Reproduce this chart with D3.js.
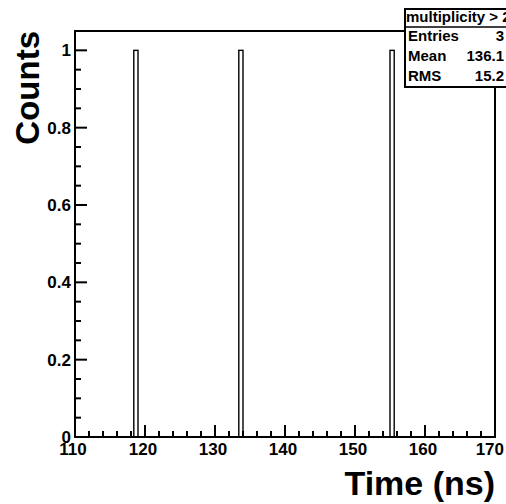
<!DOCTYPE html>
<html>
<head>
<meta charset="utf-8">
<script src="https://cdn.jsdelivr.net/npm/d3@7"></script>
<style>
  html, body { margin: 0; padding: 0; background: #fff; }
  svg { display: block; font-family: "Liberation Sans", Arial, Helvetica, sans-serif; font-weight: bold; }
</style>
</head>
<body>
<svg id="chart" width="506" height="504"></svg>
<script>
// ---- data ----
const binStarts = [118.4, 133.4, 155.0];
const binWidth = 0.6;
const counts = [1, 1, 1];
const xTicks = [110, 120, 130, 140, 150, 160, 170];
const yTicks = [0, 0.2, 0.4, 0.6, 0.8, 1];
const yTickLabels = ["0", "0.2", "0.4", "0.6", "0.8", "1"];
const statsTitle = "multiplicity > 2";
const statLabels = ["Entries", "Mean", "RMS"];
const statValues = ["3", "136.1", "15.2"];
const xTitle = "Time (ns)";
const yTitle = "Counts";

// ---- layout ----
const L = 75, R = 495, T = 31, B = 437;
const svg = d3.select("#chart");
const x = d3.scaleLinear().domain([110, 170]).range([L, R]);
const y = d3.scaleLinear().domain([0, 1.05]).range([B, T]);

// bars
svg.append("g").selectAll("rect").data(binStarts).join("rect")
  .attr("x", d => x(d))
  .attr("width", d => x(d + binWidth) - x(d))
  .attr("y", (d, i) => y(counts[i]))
  .attr("height", (d, i) => y(0) - y(counts[i]))
  .attr("fill", "#fff")
  .attr("stroke", "#000")
  .attr("stroke-width", 1.4);

// frame
svg.append("rect").attr("x", L).attr("y", T).attr("width", R - L).attr("height", B - T)
  .attr("fill", "none").attr("stroke", "#000").attr("stroke-width", 2);

// x axis ticks
const xMinor = d3.range(110, 170.001, 2);
svg.append("g").selectAll("line").data(xMinor).join("line")
  .attr("x1", d => x(d)).attr("x2", d => x(d))
  .attr("y1", B).attr("y2", d => B - (Math.abs(d % 10) < 1e-6 ? 12 : 6))
  .attr("stroke", "#000").attr("stroke-width", 2);
svg.append("g").selectAll("text").data(xTicks).join("text")
  .attr("x", (d, i) => i === xTicks.length - 1 ? 504 : x(d) - 2).attr("y", 455)
  .attr("text-anchor", (d, i) => i === xTicks.length - 1 ? "end" : "middle")
  .attr("font-size", 17)
  .text(d => d);

// y axis ticks
const yMinor = d3.range(0, 20.001, 1).map(k => k * 0.05);
svg.append("g").selectAll("line").data(yMinor).join("line")
  .attr("x1", L).attr("x2", (d, i) => L + (i % 4 === 0 ? 12 : 6))
  .attr("y1", d => y(d)).attr("y2", d => y(d))
  .attr("stroke", "#000").attr("stroke-width", 2);
svg.append("g").selectAll("text").data(yTicks).join("text")
  .attr("x", 71).attr("y", d => y(d)).attr("dy", "0.36em")
  .attr("text-anchor", "end").attr("font-size", 17)
  .text((d, i) => yTickLabels[i]);

// axis titles
svg.append("text").attr("x", 495).attr("y", 495)
  .attr("text-anchor", "end").attr("font-size", 34).text(xTitle);
svg.append("text").attr("transform", "translate(39,31) rotate(-90)")
  .attr("text-anchor", "end").attr("font-size", 33).text(yTitle);

// stats box
const bx = 405, by = 9, bw = 110, bh = 78;
svg.append("rect").attr("x", bx).attr("y", by).attr("width", bw).attr("height", bh)
  .attr("fill", "#fff").attr("stroke", "#000").attr("stroke-width", 2);
svg.append("line").attr("x1", bx).attr("x2", bx + bw).attr("y1", 27).attr("y2", 27)
  .attr("stroke", "#000").attr("stroke-width", 1.5);
svg.append("text").attr("x", 406).attr("y", 22).attr("font-size", 15).text(statsTitle);
const rowY = [41, 61, 81];
svg.append("g").selectAll("text").data(statLabels).join("text")
  .attr("x", 408).attr("y", (d, i) => rowY[i]).attr("font-size", 15).text(d => d);
svg.append("g").selectAll("text").data(statValues).join("text")
  .attr("x", 504).attr("y", (d, i) => rowY[i]).attr("text-anchor", "end")
  .attr("font-size", 15).text(d => d);
</script>
</body>
</html>
